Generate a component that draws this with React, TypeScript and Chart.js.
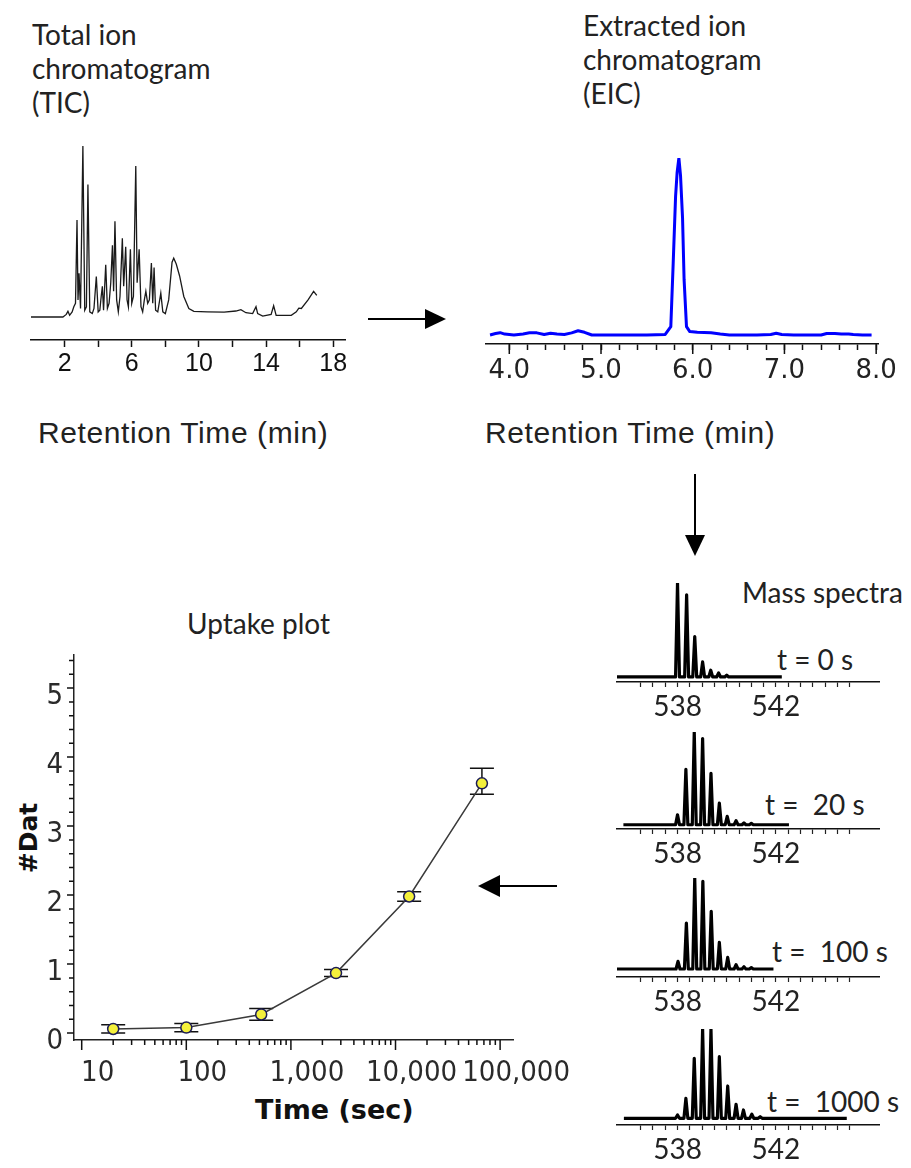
import React, { useEffect, useRef } from 'react';
import { Chart, registerables } from 'chart.js';
Chart.register(...registerables);

// ---------------- DATA ----------------
// Total ion chromatogram (retention time in min, relative intensity)
const ticTime = [0, 1.9, 2.1, 2.2, 2.3, 2.45, 2.55, 2.65, 2.74, 2.8, 2.86, 2.95, 3.09, 3.2, 3.3, 3.39, 3.5, 3.65, 3.75, 3.89, 4.0, 4.1, 4.18, 4.25, 4.32, 4.45, 4.55, 4.65, 4.75, 4.85, 4.92, 5.0, 5.1, 5.2, 5.3, 5.44, 5.52, 5.64, 5.72, 5.8, 5.92, 6.0, 6.1, 6.24, 6.32, 6.44, 6.55, 6.65, 6.75, 6.84, 6.95, 7.05, 7.17, 7.25, 7.33, 7.42, 7.55, 7.73, 7.85, 8.0, 8.2, 8.4, 8.5, 8.65, 8.85, 9.1, 9.4, 9.7, 10.5, 11.5, 12.2, 12.5, 12.8, 13.2, 13.4, 13.5, 13.8, 14.3, 14.45, 14.6, 15.5, 15.8, 15.95, 16.1, 16.5, 16.83, 17.02];
const ticInt = [0, 0, 1.5, 3.3, 1, 3, 6, 8, 56.7, 10, 25.6, 5, 100, 4, 6, 77.5, 3, 2, 5, 23.7, 3, 4, 12, 18, 4, 30.5, 5, 8, 20, 42, 15, 56, 10, 3, 12, 46, 18, 41, 10, 6, 39.6, 8, 12, 88.3, 20, 39.6, 6, 3, 10, 15, 8, 10, 31.5, 8, 29, 4, 3, 14, 3, 2, 10, 32, 34.4, 31, 24, 12, 5, 3.3, 3, 2.8, 3.5, 4.3, 2.5, 2, 6, 2, 0.5, 1.5, 6.6, 1, 1, 3, 5.2, 5, 10, 15, 12.6];
const ticTickValues = [2, 4, 6, 8, 10, 12, 14, 16, 18];
const ticTickLabels = [2, 6, 10, 14, 18];

// Extracted ion chromatogram
const eicTime = [3.79, 3.85, 3.9, 3.95, 4.05, 4.15, 4.22, 4.3, 4.38, 4.45, 4.52, 4.6, 4.68, 4.75, 4.82, 4.9, 5.2, 5.5, 5.7, 5.761, 5.787, 5.813, 5.83, 5.849, 5.867, 5.889, 5.906, 5.932, 5.968, 6.05, 6.2, 6.3, 6.4, 6.7, 6.85, 6.91, 6.97, 7.1, 7.4, 7.46, 7.55, 7.62, 7.7, 7.75, 7.85, 7.95];
const eicInt = [0, 0.8, 1.3, 0.5, 0, 0.6, 1.2, 1.2, 0.3, 1.0, 0.6, 0.3, 1.2, 2.4, 1.5, 0, 0, 0, 0.3, 4.7, 40.6, 78.3, 92, 100, 90, 66, 31.1, 4.7, 1.9, 1.5, 1.2, 0.5, 0, 0, 0.3, 1.0, 0.3, 0, 0, 0.8, 0.8, 0.5, 0.6, 0.3, 0, 0];
const eicMajorTicks = [4, 5, 6, 7, 8];

// Mass spectra (isotope peaks: m/z and relative intensity), trace start/end m/z
const spec0Mz = [538.0, 538.37, 538.7, 539.02, 539.35, 539.67, 540.0];
const spec0Int = [100, 87.5, 43, 16, 7.2, 4.3, 2];
const spec20Mz = [538.0, 538.34, 538.68, 539.02, 539.36, 539.7, 540.02, 540.38, 540.7, 541.0];
const spec20Int = [10.7, 59.7, 100, 93, 55.4, 23.3, 9, 4.3, 2, 1.5];
const spec100Mz = [538.02, 538.36, 538.7, 539.03, 539.37, 539.7, 540.04, 540.38, 540.7, 541.0];
const spec100Int = [8.4, 50.5, 100, 96.3, 63.3, 29.2, 12.7, 4.7, 2.5, 1.5];
const spec1000Mz = [538.0, 538.34, 538.68, 539.02, 539.36, 539.7, 540.04, 540.38, 540.68, 541.02, 541.36];
const spec1000Int = [3.7, 22.4, 67.2, 100, 100, 69, 36.2, 15.7, 9.3, 4.5, 1.8];
const specRanges = [[535.53, 542.24], [535.8, 542.53], [535.5, 541.9], [535.82, 544.88]];
const specLabels = ['t = 0 s', 't =  20 s', 't =  100 s', 't =  1000 s'];
const specTickLabels = [538, 542];

// Uptake plot
const uptakeTime = [20, 100, 520, 2700, 13500, 67000];
const uptakeDat = [0.06, 0.08, 0.27, 0.87, 1.98, 3.62];
const uptakeErrLo = [0.06, 0.06, 0.085, 0.05, 0.07, 0.16];
const uptakeErrHi = [0.06, 0.06, 0.085, 0.05, 0.07, 0.22];
const uptakeXTicks = [10, 100, 1000, 10000, 100000];
const uptakeYTicks = [0, 1, 2, 3, 4, 5];

// ---------------- HELPERS ----------------
type Mark = { scale: string; values: number[]; len: number; width?: number; color?: string };

function tickPlugin(marks: Mark[]) {
  return {
    id: 'extraTicks',
    afterDraw(chart: any) {
      const ctx = chart.ctx;
      ctx.save();
      for (const m of marks) {
        const s = chart.scales[m.scale];
        ctx.strokeStyle = m.color || '#111';
        ctx.lineWidth = m.width || 1.5;
        ctx.beginPath();
        for (const v of m.values) {
          const p = s.getPixelForValue(v);
          if (s.isHorizontal()) {
            ctx.moveTo(p, s.top);
            ctx.lineTo(p, s.top + m.len);
          } else {
            ctx.moveTo(s.right, p);
            ctx.lineTo(s.right - m.len, p);
          }
        }
        ctx.stroke();
      }
      ctx.restore();
    },
  };
}

const fixX = (h: number) => (s: any) => {
  s.height = h;
  s.paddingLeft = 0;
  s.paddingRight = 0;
};

const setTicks = (vals: number[]) => (s: any) => {
  s.ticks = vals.map((v) => ({ value: v }));
};

const range = (a: number, b: number, step: number) => {
  const out: number[] = [];
  const n = Math.round((b - a) / step);
  for (let i = 0; i <= n; i++) out.push(Math.round((a + i * step) * 1000) / 1000);
  return out;
};

type Area = { left: number; top: number; right: number; bottom: number };

function ChartBox({ area, padL, padR, padT, axisH, axisW = 0, build }: { area: Area; padL: number; padR: number; padT: number; axisH: number; axisW?: number; build: (padding: any) => any }) {
  const ref = useRef<HTMLCanvasElement>(null);
  const x = area.left - padL - axisW;
  const y = area.top - padT;
  const w = area.right - area.left + padL + padR + axisW;
  const h = area.bottom - area.top + padT + axisH;
  useEffect(() => {
    const chart = new Chart(ref.current as HTMLCanvasElement, build({ left: padL, right: padR, top: padT, bottom: 0 }));
    return () => chart.destroy();
  }, []);
  return <canvas ref={ref} width={w} height={h} style={{ position: 'absolute', left: x, top: y, width: w, height: h }} />;
}

const baseOptions = (padding: any) => ({
  responsive: false,
  animation: false,
  devicePixelRatio: 1,
  layout: { padding },
  plugins: { legend: { display: false }, tooltip: { enabled: false } },
});

// ---------------- CHART CONFIGS ----------------
const ticConfig = (padding: any) => ({
  type: 'line',
  data: {
    datasets: [{
      data: ticTime.map((t, i) => ({ x: t, y: ticInt[i] })),
      borderColor: '#1a1a1a', borderWidth: 1.3, pointRadius: 0, tension: 0,
    }],
  },
  options: {
    ...baseOptions(padding),
    scales: {
      x: {
        type: 'linear', min: 0, max: 18.7,
        afterBuildTicks: setTicks(ticTickValues), afterFit: fixX(50),
        grid: { display: true, drawOnChartArea: false, drawTicks: true, tickLength: 7, tickColor: '#111', tickWidth: 1.5 },
        border: { display: true, color: '#111', width: 1.5 },
        ticks: {
          autoSkip: false, maxRotation: 0, padding: 2, color: '#111',
          font: { family: "'Liberation Sans', Arial, sans-serif", size: 25 },
          callback: (v: any) => (ticTickLabels.includes(v) ? String(v) : ''),
        },
      },
      y: { display: false, min: -13.45, max: 100 },
    },
  },
});

const eicConfig = (padding: any) => ({
  type: 'line',
  data: {
    datasets: [{
      data: eicTime.map((t, i) => ({ x: t, y: eicInt[i] })),
      borderColor: '#0000ff', borderWidth: 3, pointRadius: 0, tension: 0, borderJoinStyle: 'round',
    }],
  },
  options: {
    ...baseOptions(padding),
    scales: {
      x: {
        type: 'linear', min: 3.746, max: 8.02,
        afterBuildTicks: setTicks(range(4, 8, 0.2)), afterFit: fixX(55),
        grid: { display: true, drawOnChartArea: false, drawTicks: true, tickLength: 6, tickColor: '#111', tickWidth: 1.5 },
        border: { display: true, color: '#111', width: 1.5 },
        ticks: {
          autoSkip: false, maxRotation: 0, padding: 6, color: '#222',
          font: { family: "'DejaVu Sans', Verdana, sans-serif", size: 26 },
          callback: (v: any) => (Number.isInteger(v) ? Number(v).toFixed(1) : ''),
        },
      },
      y: { display: false, min: -5.1, max: 100 },
    },
  },
  plugins: [tickPlugin([{ scale: 'x', values: eicMajorTicks, len: 10 }])],
});

const buildTrace = (mz: number[], it: number[], r: number[]) => {
  const pts = [{ x: r[0], y: 0 }];
  mz.forEach((m, i) => {
    pts.push({ x: m - 0.08, y: 0 }, { x: m, y: it[i] }, { x: m + 0.08, y: 0 });
  });
  pts.push({ x: r[1], y: 0 });
  return pts;
};

const specConfig = (mz: number[], it: number[], r: number[], ymin: number) => (padding: any) => ({
  type: 'line',
  data: {
    datasets: [{
      data: buildTrace(mz, it, r),
      borderColor: '#000', borderWidth: 3.2, pointRadius: 0, tension: 0, borderJoinStyle: 'round',
    }],
  },
  options: {
    ...baseOptions(padding),
    scales: {
      x: {
        type: 'linear', min: 535.54, max: 546.19,
        afterBuildTicks: setTicks(range(536.5, 545, 0.5)), afterFit: fixX(40),
        grid: { display: true, drawOnChartArea: false, drawTicks: true, tickLength: 5, tickColor: '#222', tickWidth: 1.2 },
        border: { display: true, color: '#111', width: 1.5 },
        ticks: {
          autoSkip: false, maxRotation: 0, padding: 3, color: '#222',
          font: { family: 'Lato, sans-serif', size: 28 },
          callback: (v: any) => (specTickLabels.includes(v) ? String(v) : ''),
        },
      },
      y: { display: false, min: ymin, max: 100 },
    },
  },
});

const errorBarPlugin = {
  id: 'errBars',
  beforeDatasetsDraw(chart: any) {
    const { ctx } = chart;
    const x = chart.scales.x;
    const y = chart.scales.y;
    ctx.save();
    ctx.strokeStyle = '#111';
    ctx.lineWidth = 1.5;
    uptakeTime.forEach((t, i) => {
      const px = x.getPixelForValue(t);
      const top = y.getPixelForValue(uptakeDat[i] + uptakeErrHi[i]);
      const bot = y.getPixelForValue(uptakeDat[i] - uptakeErrLo[i]);
      ctx.beginPath();
      ctx.moveTo(px, top); ctx.lineTo(px, bot);
      ctx.moveTo(px - 12, top); ctx.lineTo(px + 12, top);
      ctx.moveTo(px - 12, bot); ctx.lineTo(px + 12, bot);
      ctx.stroke();
    });
    ctx.restore();
  },
};

const logMinors: number[] = [];
[10, 100, 1000, 10000].forEach((d) => { for (let k = 2; k <= 9; k++) logMinors.push(d * k); });
const yMinors = range(0, 5.4, 0.2).filter((v) => !Number.isInteger(v));

const uptakeFont = { family: "'DejaVu Sans Condensed', 'DejaVu Sans', sans-serif", size: 29 };

const uptakeConfig = (padding: any) => ({
  type: 'line',
  data: {
    datasets: [{
      data: uptakeTime.map((t, i) => ({ x: t, y: uptakeDat[i] })),
      borderColor: '#3a3a3a', borderWidth: 1.5, tension: 0,
      pointRadius: 5.5, pointBackgroundColor: '#f4f03c', pointBorderColor: '#1c1c55', pointBorderWidth: 1.5,
    }],
  },
  options: {
    ...baseOptions(padding),
    scales: {
      x: {
        type: 'logarithmic', min: 8.44, max: 132800,
        afterBuildTicks: setTicks(uptakeXTicks), afterFit: fixX(80),
        grid: { display: false, drawTicks: true, tickLength: 10 },
        border: { display: true, color: '#222', width: 1.5 },
        ticks: {
          autoSkip: false, maxRotation: 0, labelOffset: 16, padding: 6, color: '#2a2a2a',
          font: uptakeFont,
          callback: (v: any) => Number(v).toLocaleString('en-US'),
        },
      },
      y: {
        min: -0.1, max: 5.48,
        afterBuildTicks: setTicks(uptakeYTicks),
        afterFit: (s: any) => { s.width = 74; s.paddingTop = 0; s.paddingBottom = 0; },
        grid: { display: false, drawTicks: true, tickLength: 7 },
        border: { display: true, color: '#222', width: 1.5 },
        ticks: {
          labelOffset: 8, padding: 4, color: '#2a2a2a',
          font: uptakeFont,
          callback: (v: any) => String(v),
        },
      },
    },
  },
  plugins: [
    errorBarPlugin,
    tickPlugin([
      { scale: 'x', values: uptakeXTicks, len: 10 },
      { scale: 'x', values: logMinors, len: 5 },
      { scale: 'y', values: uptakeYTicks, len: 7 },
      { scale: 'y', values: yMinors, len: 5 },
    ]),
  ],
});

// ---------------- LAYOUT ----------------
const specAreas: Area[] = [
  { left: 617, top: 583, right: 879, bottom: 682 },
  { left: 617, top: 732, right: 879, bottom: 829 },
  { left: 617, top: 878, right: 879, bottom: 977 },
  { left: 617, top: 1029, right: 879, bottom: 1125 },
];
const specYMin = [-5.35, -4.6, -8.8, -7.5];
const specLabelPos = [[777, 642], [765, 787], [772, 934], [767, 1084]];
const specData = [
  [spec0Mz, spec0Int],
  [spec20Mz, spec20Int],
  [spec100Mz, spec100Int],
  [spec1000Mz, spec1000Int],
];

const calibri: React.CSSProperties = { fontFamily: 'Lato, sans-serif', fontSize: 28, lineHeight: '34px', color: '#222', whiteSpace: 'pre', position: 'absolute' };
const arial: React.CSSProperties = { fontFamily: "'Liberation Sans', Arial, sans-serif", fontSize: 30, lineHeight: '34px', letterSpacing: '0.6px', color: '#222', whiteSpace: 'pre', position: 'absolute' };

export default function App() {
  return (
    <div style={{ position: 'absolute', left: 0, top: 0, width: 911, height: 1168, background: '#fff', overflow: 'hidden' }}>
      <div style={{ ...calibri, left: 32, top: 17 }}>{'Total ion\nchromatogram\n(TIC)'}</div>
      <div style={{ ...calibri, left: 583, top: 8 }}>{'Extracted ion\nchromatogram\n(EIC)'}</div>
      <div style={{ ...arial, left: 38, top: 416 }}>Retention Time (min)</div>
      <div style={{ ...arial, left: 485, top: 416 }}>Retention Time (min)</div>
      <div style={{ ...calibri, left: 187, top: 606 }}>Uptake plot</div>
      <div style={{ ...calibri, left: 742, top: 575 }}>Mass spectra</div>
      {specLabels.map((t, i) => (
        <div key={t} style={{ ...calibri, left: specLabelPos[i][0], top: specLabelPos[i][1] }}>{t}</div>
      ))}
      <div style={{ position: 'absolute', left: 255, top: 1094, fontFamily: "'DejaVu Sans', sans-serif", fontWeight: 'bold', fontSize: 27, lineHeight: '32px', color: '#111', whiteSpace: 'pre' }}>Time (sec)</div>
      <div style={{ position: 'absolute', left: 28, top: 838, transform: 'translate(-50%, -50%) rotate(-90deg)', fontFamily: "'DejaVu Sans', sans-serif", fontWeight: 'bold', fontSize: 25, lineHeight: '25px', color: '#111', whiteSpace: 'pre' }}>#Dat</div>

      <ChartBox area={{ left: 31, top: 146, right: 345, bottom: 340 }} padL={31} padR={40} padT={10} axisH={50} build={ticConfig} />
      <ChartBox area={{ left: 486, top: 158, right: 878, bottom: 344 }} padL={26} padR={33} padT={10} axisH={55} build={eicConfig} />
      {specAreas.map((a, i) => (
        <ChartBox key={i} area={a} padL={12} padR={32} padT={8} axisH={40}
          build={specConfig(specData[i][0], specData[i][1], specRanges[i], specYMin[i])} />
      ))}
      <ChartBox area={{ left: 74, top: 655, right: 513, bottom: 1040 }} padL={0} padR={87} padT={12} axisH={80} axisW={74} build={uptakeConfig} />

      <svg width={911} height={1168} style={{ position: 'absolute', left: 0, top: 0, pointerEvents: 'none' }}>
        <line x1={368} y1={319} x2={428} y2={319} stroke="#000" strokeWidth={2} />
        <polygon points="425,309 446,319 425,329" fill="#000" />
        <line x1={695} y1={474} x2={695} y2={538} stroke="#000" strokeWidth={2} />
        <polygon points="685,535 695,556 705,535" fill="#000" />
        <line x1={557} y1={886} x2={497} y2={886} stroke="#000" strokeWidth={2} />
        <polygon points="500,875 478,886 500,897" fill="#000" />
      </svg>
    </div>
  );
}
